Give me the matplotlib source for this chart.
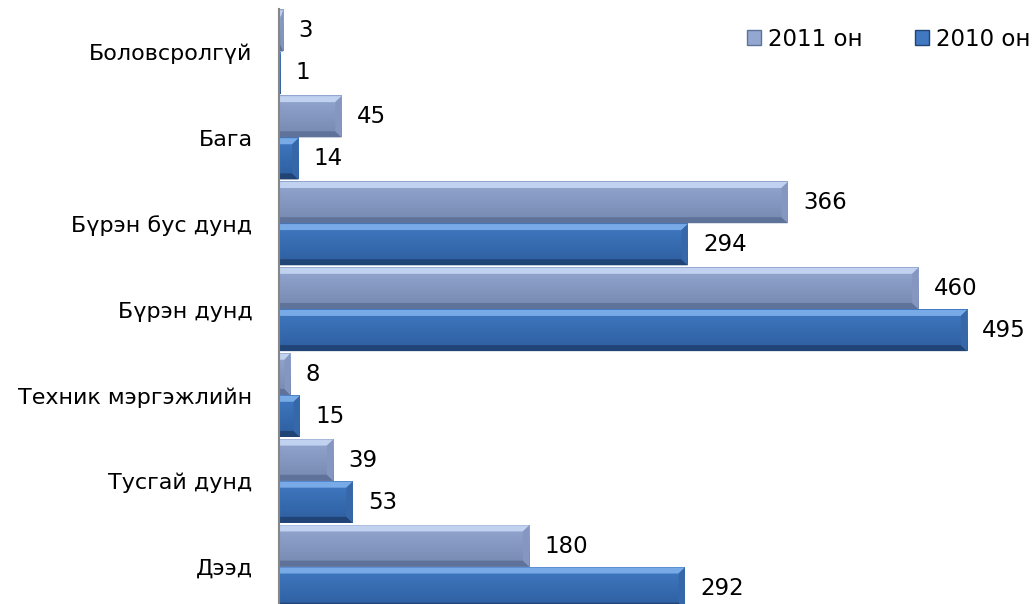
import numpy as np
import matplotlib
matplotlib.use("Agg")
import matplotlib.pyplot as plt
from matplotlib.patches import Polygon, Patch
from matplotlib.colors import LinearSegmentedColormap

# ============================== DATA ==============================
categories = ["Боловсролгүй", "Бага", "Бүрэн бус дунд", "Бүрэн дунд",
              "Техник мэргэжлийн", "Тусгай дунд", "Дээд"]
values_2011 = [3, 45, 366, 460, 8, 39, 180]
values_2010 = [1, 14, 294, 495, 15, 53, 292]
series_names = ["2011 он", "2010 он"]

# colours: face top, face bottom, top bevel, bottom bevel, right bevel
col_2011 = ["#93a7d0", "#7588b0", "#c0d2ef", "#5f7299", "#8597c0"]
col_2010 = ["#4079c2", "#2d5e9f", "#78aae8", "#1f4475", "#3667a8"]

plt.rcParams["font.family"] = ["DejaVu Sans"]

fig = plt.figure(figsize=(10.35, 6.04), dpi=100)
W, H = 1035, 604
ax = fig.add_axes([279 / W, -6 / H, 721 / W, 601 / H])

y = np.arange(len(categories))
bar_h = 0.48
off = 0.245
px_per_unit = 1.39
xmax = 721 / px_per_unit
grad = np.linspace(0, 1, 64).reshape(-1, 1)


def bevel_bar(v, c, cols):
    # gradient face + trapezoid bevels, imitating the Excel bevel bars
    top, bot = c - bar_h / 2, c + bar_h / 2
    cmap = LinearSegmentedColormap.from_list("f", [cols[0], cols[1]])
    ax.imshow(grad, extent=[0, v, bot, top], aspect="auto", cmap=cmap,
              origin="upper", zorder=2, interpolation="bilinear")
    bx = min(4.5, v / 2)
    by = 0.07
    ax.add_patch(Polygon([(0, top), (v, top), (v - bx, top + by), (0, top + by)],
                         closed=True, fc=cols[2], ec="none", zorder=3))
    ax.add_patch(Polygon([(0, bot), (v, bot), (v - bx, bot - by), (0, bot - by)],
                         closed=True, fc=cols[3], ec="none", zorder=3))
    ax.add_patch(Polygon([(v, top), (v, bot), (v - bx, bot - by), (v - bx, top + by)],
                         closed=True, fc=cols[4], ec="none", zorder=3))


b1 = ax.barh(y - off, values_2011, height=bar_h, color="none", zorder=1)
b2 = ax.barh(y + off, values_2010, height=bar_h, color="none", zorder=1)
for v, c in zip(values_2011, y - off):
    bevel_bar(v, c, col_2011)
for v, c in zip(values_2010, y + off):
    bevel_bar(v, c, col_2010)

ax.bar_label(b1, padding=11, fontsize=16.5, color="#000000")
ax.bar_label(b2, padding=11, fontsize=16.5, color="#000000")

ax.set_xlim(0, xmax)
ax.set_ylim(len(categories) - 0.5, -0.5)
ax.set_yticks(y)
ax.set_yticklabels(categories, fontsize=16)
ax.set_xticks([])
ax.tick_params(axis="y", length=0, pad=19)
for s in ["top", "right", "bottom"]:
    ax.spines[s].set_visible(False)
ax.spines["left"].set_color("#868686")
ax.spines["left"].set_linewidth(1.5)
ax.spines["left"].set_zorder(5)

handles = [Patch(fc=col_2011[0], ec=col_2011[3]), Patch(fc=col_2010[0], ec=col_2010[3])]
fig.legend(handles, series_names, loc="center right", bbox_to_anchor=(1 - 5 / W, 1 - 39 / H),
           ncol=2, frameon=False, fontsize=16.5, handlelength=0.6, handleheight=0.6,
           handletextpad=0.3, columnspacing=2.3, borderaxespad=0.0, borderpad=0.0)

fig.savefig("out.png", dpi=100)
